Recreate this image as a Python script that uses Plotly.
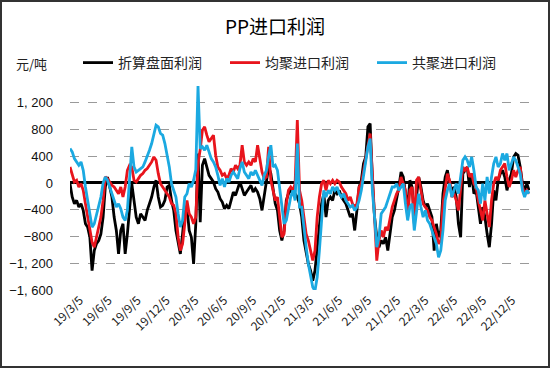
import pandas as pd
import plotly.graph_objects as go

# weekly observation dates
dates = pd.date_range("2019-03-05", periods=209, freq="7D")

# 折算盘面利润 (black)
black = [-10, -210, -310, -260, -360, -310, -410, -610, -660, -810, -1310, -1010, -910, -860, -760, -510, -60, 90, -60, -210, -510, -710, -1060, -710, -610, -1060, -760, -310, -10,
         -260, -510, -610, -460, -510, -560, -410, -310, -210, -60, 40, -210, -360, -335, -260, -60, -35, -260, -410, -710, -910, -1060, -760, -410, -360, -710, -810, -1210, -610, 440,
         -585, 265, 365, 215, 115, 65, 15, -85, -135, -235, -285, -385, -335, -385, -235, -135, -185, -85, 15, -85, -185, -135, -85, -35, -135, -85, -135, -235, -410, -185,
         40, 240, 140, -110, -310, -410, -710, -860, -710, -260, -160, -110, -160, -160, -210, -310, -510, -860, -1060, -1210, -1310, -1460, -1310, -1010, -610, -310, -160, -510, -260, -210,
         -260, -110, -160, -110, -210, -260, -310, -410, -510, -460, -710, -410, -60, 40, 290, 390, 840, 890, 40, -510, -810, -960, -860, -910, -810, -1010, -710, -510, -410, -260,
         -60, 165, 90, -160, -360, 40, -60, -510, -210, 90, -60, -260, -360, -310, -410, -510, -1010, -610, -810, -710, -160, 90, 190, -10, -110, -60, -210, -610, -810, 140,
         190, 240, -60, 140, -160, -110, -360, -610, -360, -510, -760, -960, -610, -110, -260, 40, 140, 190, 90, -110, 40, 140, 390, 440, 415, 240, -10, -110, -10, -110]

# 均聚进口利润 (red)
red = [240, 140, 15, 40, -60, -10, -110, -310, -510, -710, -885, -960, -810, -660, -510, -260, 90, 65, 15, -35, -60, -110, -160, -60, -210, -60, 190, 265, 240,
       40, 15, 65, 115, 140, 190, 215, 265, 315, 390, 340, 140, -10, -60, -110, -160, -210, -310, -335, -460, -810, -1010, -910, -610, -260, -460, -510, -610, -510, 290,
       500, 790, 840, 715, 615, 665, 715, 415, 240, 190, 115, 140, 65, 115, 215, 165, 265, 215, 265, 565, 315, 265, 315, 265, 365, 315, 565, 365, 165, 65,
       90, 540, 40, -110, -260, -210, -560, -810, -760, -310, -110, -60, -110, -10, 940, -110, -260, -510, -760, -860, -1010, -1160, -1010, -510, -210, -10, 40, -110, 40, -10,
       40, -10, 40, 15, -60, -110, -160, -260, -210, -310, -360, -310, -60, -10, 190, 390, 540, 740, 140, -610, -1160, -860, -710, -810, -660, -710, -510, -360, -260, -160,
       -110, 90, -10, -110, -510, -110, -60, -610, 40, 90, -110, -310, -360, -410, -510, -560, -660, -760, -910, -860, -310, -60, 140, 40, -210, -160, -260, -410, -110, 240,
       190, 240, 90, 140, -10, -60, -260, -410, -560, -260, -460, -660, -260, -10, 90, 40, 190, 240, 290, 90, -60, 40, 190, 90, 190, 240, -60, -160, -110, -160]

# 共聚进口利润 (cyan)
cyan = [515, 465, 365, 315, 265, 315, 190, -60, -260, -510, -660, -610, -460, -360, -210, 0, 90, 40, -60, -160, -260, -360, -310, -385, -510, -560, -410, 140, 540,
        240, 165, 190, 215, 240, 315, 390, 490, 590, 740, 865, 840, 740, 715, 590, 415, 240, -10, -110, -210, -460, -660, -560, -210, -160, -10, -60, 40, 200, 1450,
        515, 540, 490, 565, 465, 365, 315, 240, 115, -35, 65, -60, 65, 15, 115, 165, 115, 65, 215, 315, 165, 115, 65, 165, 115, 190, 115, 65, -35, 115,
        190, 400, 565, 240, 265, 190, -60, -310, -610, -560, -360, -210, -110, -260, 590, -360, -360, -710, -960, -1210, -1360, -1560, -1610, -1410, -1010, -510, -110, -210, -110, -160,
        -60, -110, -60, -160, -210, -160, -260, -310, -360, -335, -410, -360, -260, -110, 90, 290, 540, 665, -110, -510, -960, -810, -460, -410, -360, -260, -160, -60, -60, -10,
        -110, -60, -10, -310, -560, -360, -310, -710, -410, -160, -360, -510, -410, -560, -610, -710, -810, -910, -1110, -1010, -710, -260, -110, -10, -210, -110, -10, -160, 90, 340,
        390, 340, 240, 390, 190, -60, -110, -310, -10, -260, 90, -160, 90, 290, 390, 240, 290, 440, 340, 440, 190, 290, 390, 340, 240, 140, -110, -210, -110, -160]

names = ["折算盘面利润", "均聚进口利润", "共聚进口利润"]
colors = ["#000000", "#e8141c", "#1ba9e1"]

x_tick_dates = pd.date_range("2019-03-05", periods=16, freq="3MS") + pd.Timedelta(days=4)
x_tick_text = ["19/3/5", "19/6/5", "19/9/5", "19/12/5", "20/3/5", "20/6/5", "20/9/5", "20/12/5",
               "21/3/5", "21/6/5", "21/9/5", "21/12/5", "22/3/5", "22/6/5", "22/9/5", "22/12/5"]
y_tick_vals = [-1600, -1200, -800, -400, 0, 400, 800, 1200]
y_tick_text = ["−1, 600", "−1, 200", "−800", "−400", "0", "400", "800", "1, 200"]

cjk = "Noto Sans CJK SC"
fig = go.Figure()
for vals, nm, col in zip([black, red, cyan], names, colors):
    fig.add_trace(go.Scatter(x=dates, y=vals, name=nm, mode="lines",
                             line=dict(color=col, width=2.8)))

W, H = 550, 368
ml, mr, mt, mb = 70, 20, 84, 78
pw, ph = W - ml - mr, H - mt - mb

fig.update_layout(
    width=W, height=H,
    margin=dict(l=ml, r=mr, t=mt, b=mb, autoexpand=False),
    paper_bgcolor="white", plot_bgcolor="white",
    font=dict(family=cjk, size=12, color="#000"),
    title=dict(text="PP进口利润", x=0.5, xanchor="center", y=1 - 27 / H, yanchor="middle",
               font=dict(family=cjk, size=19, color="#000")),
    showlegend=True,
    legend=dict(orientation="h", x=(78 - ml) / pw, xanchor="left", y=1 + (mt - 63) / ph, yanchor="middle",
                font=dict(family=cjk, size=14, color="#222"), itemwidth=30,
                entrywidth=102, entrywidthmode="pixels", bgcolor="rgba(0,0,0,0)"),
    xaxis=dict(type="date", range=["2019-03-05", "2023-03-03"], tickvals=x_tick_dates, ticktext=x_tick_text,
               tickangle=-45, showgrid=False, showline=False, ticks="", zeroline=False,
               tickfont=dict(family=cjk, size=12, color="#222")),
    yaxis=dict(range=[-1600, 1480], tickvals=y_tick_vals, ticktext=y_tick_text,
               showgrid=True, gridcolor="#9a9a9a", griddash="dash", gridwidth=0.8,
               zeroline=True, zerolinecolor="#000", zerolinewidth=2.5,
               showline=False, ticks="", ticklabelstandoff=16,
               tickfont=dict(family="Liberation Sans", size=13, color="#111")),
    annotations=[dict(text="元/吨", xref="paper", yref="paper", x=(14 - ml) / pw, xanchor="left",
                      y=1 + (mt - 63) / ph, yanchor="middle", showarrow=False,
                      font=dict(family=cjk, size=13, color="#222"))],
    shapes=[dict(type="rect", xref="paper", yref="paper",
                 x0=-(ml - 1) / pw, x1=1 + (mr - 1) / pw, y0=-(mb - 1) / ph, y1=1 + (mt - 1) / ph,
                 line=dict(color="#333", width=2), layer="above")],
)

fig.write_html("out.html", config={"displayModeBar": False},
               post_script="document.body.style.margin='0';")
